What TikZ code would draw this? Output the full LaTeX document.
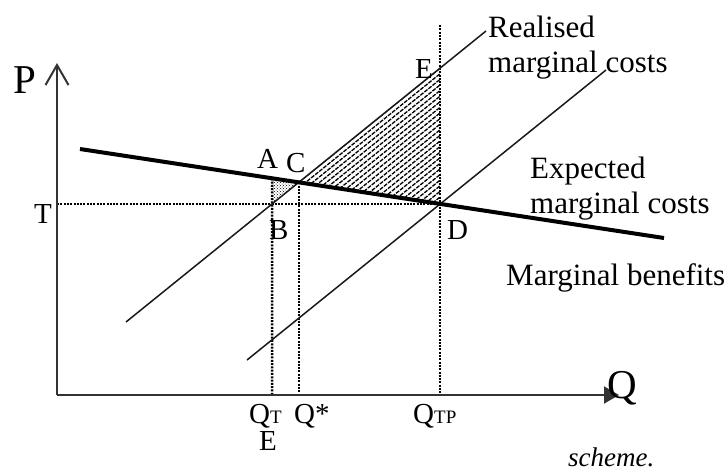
\documentclass[tikz,border=0pt]{standalone}
\usepackage{fontspec}
\setmainfont{Liberation Serif}
\usetikzlibrary{arrows.meta,patterns,calc}
\begin{document}
\begin{tikzpicture}[x=1pt,y=-1pt,
  txt/.style={inner sep=0pt, anchor=base west, font=\fontsize{31}{34}\selectfont},
  lbl/.style={inner sep=0pt, anchor=base west, font=\fontsize{29}{32}\selectfont},
  big/.style={inner sep=0pt, anchor=base west, font=\fontsize{41}{44}\selectfont},
  axis/.style={line width=2pt, draw=black!80},
  mcline/.style={line width=1.5pt, draw=black!90},
  mbline/.style={line width=4pt, draw=black},
  dotline/.style={line width=2.4pt, dash pattern=on 2pt off 1.3pt},
  hatch/.style={line width=1.3pt, dash pattern=on 4pt off 1.2pt}]
\useasboundingbox (0,0) rectangle (728,475);
% base points
\coordinate (O) at (57,395);
\coordinate (Ptop) at (57,63);
\coordinate (Qend) at (619,395);
\coordinate (top25) at (0,25);
\coordinate (mb1) at (80,149);
\coordinate (mb2) at (664,238);
\coordinate (rm1) at (126,322);
\coordinate (rm2) at (486,31);
\coordinate (em1) at (247,360);
\coordinate (em2) at (606,70);
\coordinate (C) at (intersection of mb1--mb2 and rm1--rm2);
\coordinate (D) at (intersection of mb1--mb2 and em1--em2);
\coordinate (Dtop) at (D |- top25);
\coordinate (E) at (intersection of rm1--rm2 and D--Dtop);
\coordinate (T) at (O |- D);
\coordinate (B) at (intersection of rm1--rm2 and T--D);
\coordinate (QTfoot) at (B |- O);
\coordinate (A) at (intersection of mb1--mb2 and B--QTfoot);
\coordinate (QSfoot) at (C |- O);
\coordinate (QTPfoot) at (D |- O);
% hatched triangle
\begin{scope}
  \clip (C) -- (E) -- (D) -- cycle;
  \foreach \k in {0,...,28}
    \draw[hatch] ($(C)+(-20,\k*5.6+16.16)$) -- ++(220,-177.8);
\end{scope}
% stippled triangle
\fill[pattern=crosshatch dots] (A) -- (C) -- (B) -- cycle;
% dotted guides
\draw[dotline] (T) -- (D);
\draw[dotline] (A) -- (QTfoot);
\draw[dotline] (C) -- (QSfoot);
\draw[dotline] (Dtop) -- (QTPfoot);
% curves
\draw[mcline] (rm1) -- (rm2);
\draw[mcline] (em1) -- (em2);
\draw[mbline] (mb1) -- (mb2);
% axes
\draw[axis, -{Straight Barb[length=20pt,width=23pt]}] (O) -- (Ptop);
\draw[axis, -{Triangle[length=15pt,width=17pt]}] (O) -- (Qend);
% labels
\node[big] (lP) at (13,93) {P};
\node[big] (lQ) at (607,398) {Q};
\node[lbl] (lT) at (34,223) {T};
\node[lbl] (lA) at (257,168) {A};
\node[lbl] (lC) at (286,172) {C};
\node[lbl] (lE) at (415,78) {E};
\node[lbl] (lB) at (269,239) {B};
\node[lbl] (lD) at (447,239) {D};
\node[lbl] (lQT) at (249,423) {Q{\fontsize{19}{20}\selectfont T}};
\node[lbl] (lQS) at (294,423) {Q*};
\node[lbl] (lQTP) at (413,423) {Q{\fontsize{19}{20}\selectfont TP}};
\node[lbl] (lE2) at (259,450) {E};
\node[txt] (rmc1) at (488,37) {Realised};
\node[txt] (rmc2) at (488,72) {marginal costs};
\node[txt] (emc1) at (530,178) {Expected};
\node[txt] (emc2) at (530,213) {marginal costs};
\node[txt] (mbt) at (506,285) {Marginal benefits};
\node[txt, font=\fontsize{27}{29}\selectfont\itshape] (sch) at (568,466) {scheme.};
\end{tikzpicture}
\end{document}
